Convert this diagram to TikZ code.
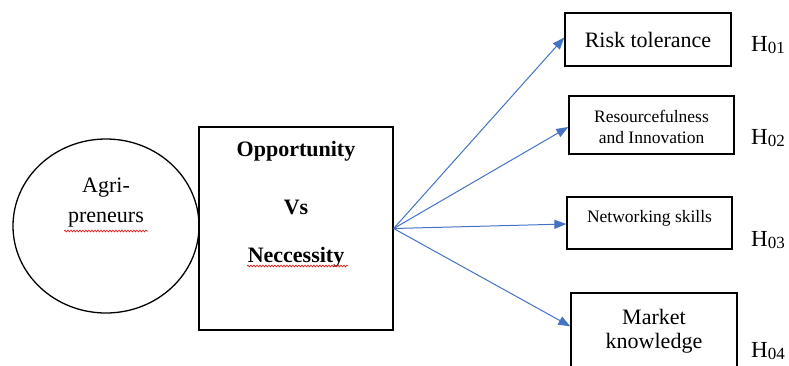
\documentclass[tikz,border=0pt]{standalone}
\usepackage{fontspec}
\setmainfont{Liberation Serif}
\usetikzlibrary{arrows.meta,calc,decorations.pathmorphing,shapes.geometric}
\definecolor{arrowblue}{HTML}{4472C4}
\definecolor{spellred}{HTML}{E02020}
\tikzset{
  box/.style={draw=black,line width=1.3pt,rectangle,inner sep=0pt},
  big/.style={font=\fontsize{22}{26}\selectfont,inner sep=0pt},
  bigb/.style={font=\fontsize{22}{26}\selectfont\bfseries,inner sep=0pt},
  small/.style={font=\fontsize{17.5}{21}\selectfont,inner sep=0pt,align=center},
  hyp/.style={font=\fontsize{23}{26}\selectfont,inner sep=0pt,anchor=west},
  link/.style={draw=arrowblue,line width=1pt,-{Triangle[length=12pt,width=9pt]}},
  wavy/.style={draw=spellred,line width=0.7pt,decorate,decoration={snake,amplitude=0.9pt,segment length=3pt}}
}
\newcommand{\hsub}[1]{H{\fontsize{17}{17}\selectfont\raisebox{-2pt}{#1}}}
\begin{document}
\begin{tikzpicture}[x=1pt,y=-1pt]
\useasboundingbox (0,0) rectangle (789,365);
% circle
\node[draw=black,line width=1.3pt,ellipse,minimum width=186pt,minimum height=174pt,inner sep=0pt] (circ) at (106,226) {};
\node[big] (agri) at (106,188) {Agri-};
\node[big] (pren) at (106,220) {preneurs};
\draw[wavy] (64,231) -- (148,231);
% opportunity box
\node[box,minimum width=194pt,minimum height=203pt] (opp) at (296,228.5) {};
\node[bigb] (oppt) at (296,151) {Opportunity};
\node[bigb] (vs) at (296,207) {Vs};
\node[bigb] (nec) at (296,257) {Neccessity};
\draw[wavy] (247,266) -- (348,266);
% right boxes
\node[box,minimum width=166pt,minimum height=53pt] (rt) at (648,39.5) {};
\node[big] (rtt) at (648,40) {Risk tolerance};
\node[box,minimum width=165pt,minimum height=58pt] (rs) at (651.5,125) {};
\node[small] (rst) at (651.5,127) {Resourcefulness\\and Innovation};
\node[box,minimum width=165pt,minimum height=52pt] (nw) at (649.5,223) {};
\node[small] (nwt) at (649.5,218) {Networking skills};
\node[box,minimum width=166pt,minimum height=92pt] (mk) at (654,339) {};
\node[big] (mkt1) at (654,317) {Market};
\node[big] (mkt2) at (654,343) {knowledge};
% hypotheses
\node[hyp] (h1) at (751,45) {\hsub{01}};
\node[hyp] (h2) at (751,138) {\hsub{02}};
\node[hyp] (h3) at (751,240) {\hsub{03}};
\node[hyp] (h4) at (751,351) {\hsub{04}};
% arrows
\coordinate (t4) at ($(mk.north west)+(0,34)$);
\draw[link] (opp.east) -- ($(rt.west)+(0,-2)$);
\draw[link] (opp.east) -- ($(rs.west)+(0,2)$);
\draw[link] (opp.east) -- ($(nw.west)+(0,1)$);
\draw[link] (opp.east) -- (t4);
\end{tikzpicture}
\end{document}
